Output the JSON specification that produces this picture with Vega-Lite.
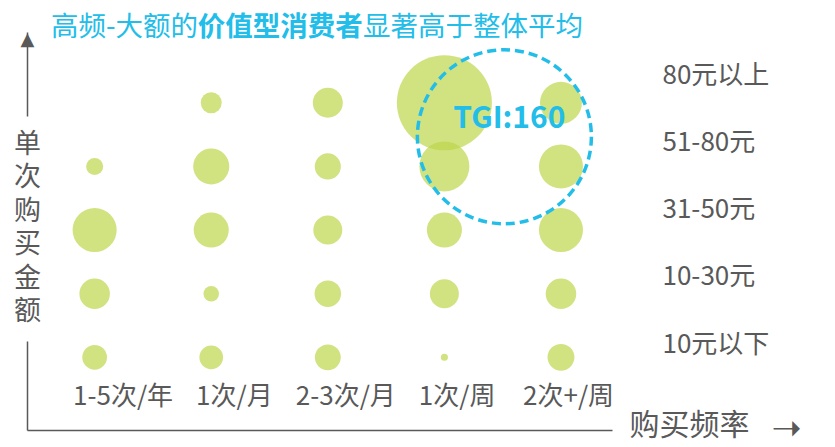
{
  "$schema": "https://vega.github.io/schema/vega-lite/v6.json",
  "width": 585,
  "height": 398,
  "autosize": {"type": "none"},
  "padding": {"left": 27, "top": 32, "right": 223, "bottom": 17},
  "background": "white",
  "config": {"view": {"stroke": null}, "font": "Noto Sans CJK SC", "axis": {"grid": false}},
  "title": {
    "text": "高频-大额的\u3000\u3000\u3000\u3000\u3000\u3000显著高于整体平均",
    "subtitle": "\u200b\u3000\u3000\u2004\u3000\u3000\u3000价值型消费者",
    "anchor": "start",
    "frame": "group",
    "dx": 24,
    "dy": 11,
    "offset": 0,
    "lineHeight": 27.5,
    "font": "Noto Sans CJK SC",
    "fontSize": 27.5,
    "fontWeight": "normal",
    "color": "#22bde9",
    "subtitleFont": "Noto Sans CJK SC",
    "subtitleFontSize": 27.5,
    "subtitleFontWeight": "bold",
    "subtitleColor": "#22bde9",
    "subtitleLineHeight": 27.5,
    "subtitlePadding": -27.5
  },
  "datasets": {
    "bubbles": [
      {"freq": "1次/月", "amount": "80元以上", "share": 4.4},
      {"freq": "2-3次/月", "amount": "80元以上", "share": 9.0},
      {"freq": "1次/周", "amount": "80元以上", "share": 90.3},
      {"freq": "2次+/周", "amount": "80元以上", "share": 17.6},
      {"freq": "1-5次/年", "amount": "51-80元", "share": 2.9},
      {"freq": "1次/月", "amount": "51-80元", "share": 13.0},
      {"freq": "2-3次/月", "amount": "51-80元", "share": 6.8},
      {"freq": "1次/周", "amount": "51-80元", "share": 25.0},
      {"freq": "2次+/周", "amount": "51-80元", "share": 19.4},
      {"freq": "1-5次/年", "amount": "31-50元", "share": 19.4},
      {"freq": "1次/月", "amount": "31-50元", "share": 12.3},
      {"freq": "2-3次/月", "amount": "31-50元", "share": 8.4},
      {"freq": "1次/周", "amount": "31-50元", "share": 12.3},
      {"freq": "2次+/周", "amount": "31-50元", "share": 19.4},
      {"freq": "1-5次/年", "amount": "10-30元", "share": 9.3},
      {"freq": "1次/月", "amount": "10-30元", "share": 2.4},
      {"freq": "2-3次/月", "amount": "10-30元", "share": 7.0},
      {"freq": "1次/周", "amount": "10-30元", "share": 8.4},
      {"freq": "2次+/周", "amount": "10-30元", "share": 9.3},
      {"freq": "1-5次/年", "amount": "10元以下", "share": 6.1},
      {"freq": "1次/月", "amount": "10元以下", "share": 5.6},
      {"freq": "2-3次/月", "amount": "10元以下", "share": 6.7},
      {"freq": "1次/周", "amount": "10元以下", "share": 0.5},
      {"freq": "2次+/周", "amount": "10元以下", "share": 7.2}
    ],
    "annot": [
      {"freq": "1次/周", "amount": "80元以上", "label": "TGI:160"}
    ]
  },
  "layer": [
    {
      "layer": [
        {
          "data": {"name": "bubbles"},
          "mark": {"type": "circle", "color": "#bdd64b", "opacity": 0.7},
          "encoding": {
            "x": {
              "field": "freq", "type": "nominal",
              "scale": {"type": "point", "domain": ["1-5次/年", "1次/月", "2-3次/月", "1次/周", "2次+/周"], "padding": 0.509, "align": 0.57},
              "axis": {"orient": "bottom", "domain": true, "domainColor": "#595959", "domainWidth": 1.5, "labels": false, "ticks": false, "grid": false,
                "title": "购买频率", "titleX": 662, "titleY": -5, "titleFontSize": 30, "titleFontWeight": "normal", "titleColor": "#595959", "titleAlign": "center", "titleBaseline": "middle"}
            },
            "y": {
              "field": "amount", "type": "nominal",
              "scale": {"type": "band", "domain": ["80元以上", "51-80元", "31-50元", "10-30元", "10元以下"], "paddingInner": 0, "paddingOuter": 0.627, "align": 0.488},
              "axis": {"orient": "left", "domain": true, "domainColor": "#595959", "domainWidth": 1.5, "domainDash": [84, 225, 1000], "labels": false, "ticks": false, "grid": false,
                "title": ["单", "次", "购", "买", "金", "额"], "titleX": 0, "titleY": 112, "titleAngle": 0, "titleFontSize": 27, "titleLineHeight": 33.5, "titleFontWeight": "normal", "titleColor": "#595959", "titleAlign": "center", "titleBaseline": "middle"}
            },
            "size": {"field": "share", "type": "quantitative", "scale": {"domain": [0, 100], "range": [0, 10000]}, "legend": null}
          }
        },
        {
          "data": {"name": "annot"},
          "mark": {"type": "point", "shape": "circle", "filled": false, "size": 30276, "stroke": "#22bde9", "strokeWidth": 3.5, "strokeDash": [9, 5], "opacity": 1, "xOffset": 60, "yOffset": 34},
          "encoding": {
            "x": {"field": "freq", "type": "nominal", "scale": {"type": "point", "domain": ["1-5次/年", "1次/月", "2-3次/月", "1次/周", "2次+/周"], "padding": 0.509, "align": 0.57}},
            "y": {"field": "amount", "type": "nominal", "scale": {"type": "band", "domain": ["80元以上", "51-80元", "31-50元", "10-30元", "10元以下"], "paddingInner": 0, "paddingOuter": 0.627, "align": 0.488}}
          }
        },
        {
          "data": {"name": "annot"},
          "mark": {"type": "text", "font": "Noto Sans CJK SC", "fontSize": 30, "fontWeight": "bold", "color": "#22bde9", "xOffset": 65, "yOffset": 16, "baseline": "middle", "align": "center"},
          "encoding": {
            "x": {"field": "freq", "type": "nominal", "scale": {"type": "point", "domain": ["1-5次/年", "1次/月", "2-3次/月", "1次/周", "2次+/周"], "padding": 0.509, "align": 0.57}},
            "y": {"field": "amount", "type": "nominal", "scale": {"type": "band", "domain": ["80元以上", "51-80元", "31-50元", "10-30元", "10元以下"], "paddingInner": 0, "paddingOuter": 0.627, "align": 0.488}},
            "text": {"field": "label"}
          }
        }
      ]
    },
    {
      "data": {"name": "bubbles"},
      "mark": {"type": "point", "opacity": 0},
      "encoding": {
        "x": {
          "field": "freq", "type": "nominal",
          "scale": {"type": "point", "domain": ["1-5次/年", "1次/月", "2-3次/月", "1次/周", "2次+/周"], "padding": 0.626, "align": 0.685},
          "axis": {"orient": "bottom", "offset": -47, "domain": false, "ticks": false, "tickSize": 0, "labelPadding": 0, "labelFontSize": 26, "labelColor": "#595959", "labelAngle": 0, "grid": false,
            "title": "➝", "titleX": 759, "titleY": 45, "titleFont": "DejaVu Sans", "titleFontSize": 36, "titleColor": "#595959", "titleFontWeight": "normal", "titleAlign": "center", "titleBaseline": "middle"}
        },
        "y": {
          "field": "amount", "type": "nominal",
          "scale": {"type": "point", "domain": ["80元以上", "51-80元", "31-50元", "10-30元", "10元以下"], "padding": 0.959, "align": 0.334},
          "axis": {"orient": "right", "domain": false, "ticks": false, "tickSize": 0, "labelPadding": 50, "labelFontSize": 26, "labelColor": "#595959", "grid": false,
            "title": "▲", "titleX": -585, "titleY": 7.5, "titleAngle": 0, "titleFont": "DejaVu Sans", "titleFontSize": 18, "titleColor": "#595959", "titleFontWeight": "normal", "titleAlign": "center", "titleBaseline": "middle"}
        }
      }
    }
  ],
  "resolve": {"scale": {"x": "independent", "y": "independent"}, "axis": {"x": "independent", "y": "independent"}}
}
